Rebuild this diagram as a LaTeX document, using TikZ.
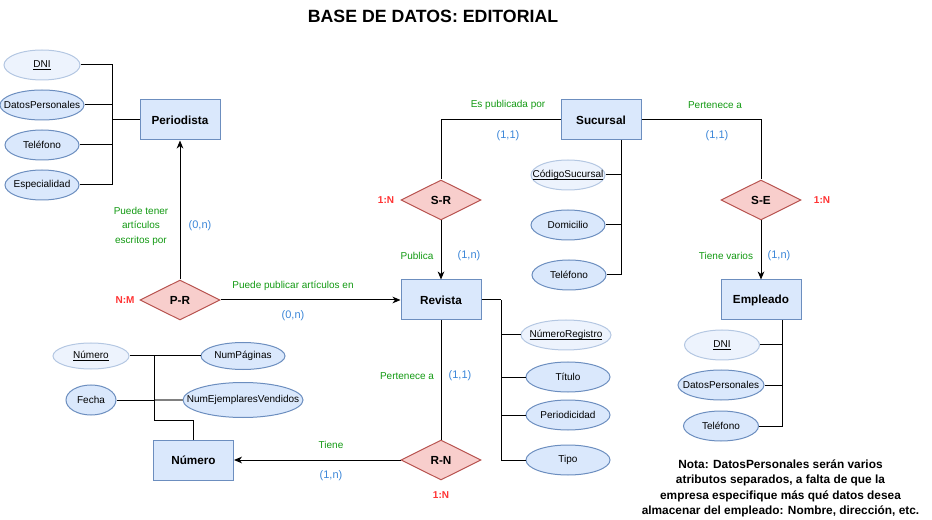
\documentclass[tikz,border=0pt]{standalone}
\usepackage{fontspec}
\setmainfont{Liberation Sans}
\usetikzlibrary{shapes.geometric,arrows.meta}
\definecolor{entfill}{HTML}{DAE8FC}
\definecolor{entdraw}{HTML}{6C8EBF}
\definecolor{relfill}{HTML}{F8CECC}
\definecolor{reldraw}{HTML}{B85450}
\definecolor{keyfill}{HTML}{EDF3FD}
\definecolor{keydraw}{HTML}{B4C7E2}
\definecolor{lblgreen}{HTML}{119911}
\definecolor{lblblue}{HTML}{3B86D8}
\definecolor{lblred}{HTML}{FF3333}
\newcommand{\zw}[1]{\makebox[0pt]{#1}}
\newcommand{\keyul}[1]{\setbox0\hbox{#1}\rlap{\rule[-1.3pt]{\wd0}{0.5pt}}\box0}
\begin{document}
\begin{tikzpicture}[x=0.75pt,y=-0.75pt,
  entity/.style={draw=entdraw,fill=entfill,line width=0.75pt,minimum width=60pt,minimum height=30pt,inner sep=0pt,font=\fontsize{8.8}{10}\selectfont\bfseries},
  rel/.style={diamond,draw=reldraw,fill=relfill,line width=0.75pt,minimum width=60pt,minimum height=30pt,inner sep=0pt,font=\fontsize{8.8}{10}\selectfont\bfseries},
  attr/.style 2 args={ellipse,draw=entdraw,fill=entfill,line width=0.75pt,minimum width=#1*0.75pt,minimum height=#2*0.75pt,inner sep=0pt,font=\fontsize{7.5}{9}\selectfont},
  keyattr/.style 2 args={attr={#1}{#2},draw=keydraw,fill=keyfill},
  conn/.style={draw=black,line width=0.75pt},
  arr/.style={conn,-{Stealth[length=6pt,width=5pt,inset=1.8pt]}},
  glbl/.style={text=lblgreen,font=\fontsize{7.5}{10.9}\selectfont,align=center,inner sep=0pt},
  blbl/.style={text=lblblue,font=\fontsize{8.25}{10}\selectfont,inner sep=0pt},
  rlbl/.style={text=lblred,font=\fontsize{7.5}{9}\selectfont\bfseries,inner sep=0pt}
]
\useasboundingbox (0,0) rectangle (932,520);

\node[font=\fontsize{13.3}{15}\selectfont\bfseries] (title) at (433,16) {BASE DE DATOS: EDITORIAL};

% entities
\node[entity] (per) at (180,120) {Periodista};
\node[entity] (suc) at (601,120) {Sucursal};
\node[entity] (rev) at (441,300) {Revista};
\node[entity] (emp) at (761,300) {Empleado};
\node[entity] (num) at (193.5,460) {Número};

% relationships
\node[rel] (pr) at (180,300) {P-R};
\node[rel] (sr) at (441,200) {S-R};
\node[rel] (se) at (761,200) {S-E};
\node[rel] (rn) at (441,460) {R-N};

% Periodista attributes
\node[keyattr={76}{30}] (pdni) at (42,65) {\zw{\keyul{DNI}}};
\node[attr={84}{30}] (pdp) at (42,105) {\zw{DatosPersonales}};
\node[attr={74}{30}] (ptel) at (42,145) {\zw{Teléfono}};
\node[attr={74}{30}] (pesp) at (42,185) {\zw{Especialidad}};
\coordinate (pj) at (112,120);
\draw[conn] (pdni.east) -| (pj);
\draw[conn] (pdp.east) -| (pj);
\draw[conn] (ptel.east) -| (pj);
\draw[conn] (pesp.east) -| (pj);
\draw[conn] (pj) -- (per.west);

% Sucursal attributes
\node[keyattr={74}{30}] (scod) at (568,175) {\zw{\keyul{CódigoSucursal}}};
\node[attr={74}{30}] (sdom) at (568,225) {\zw{Domicilio}};
\node[attr={74}{30}] (stel) at (569,275) {\zw{Teléfono}};
\coordinate (sj) at (621,140);
\draw[conn] (scod.east) -| (sj);
\draw[conn] (sdom.east) -| (sj);
\draw[conn] (stel.east) -| (sj);

% Revista attributes
\node[keyattr={90}{30}] (rnr) at (566,335) {\zw{\keyul{NúmeroRegistro}}};
\node[attr={84}{30}] (rtit) at (568,377) {\zw{Título}};
\node[attr={84}{30}] (rper) at (568,415) {\zw{Periodicidad}};
\node[attr={84}{30}] (rtip) at (568,460) {\zw{Tipo}};
\coordinate (rj) at (501,300);
\draw[conn] (rev.east) -- (rj);
\draw[conn] (rnr.west) -| (rj);
\draw[conn] (rtit.west) -| (rj);
\draw[conn] (rper.west) -| (rj);
\draw[conn] (rtip.west) -| (rj);

% Empleado attributes
\node[keyattr={75}{30}] (edni) at (722,345) {\zw{\keyul{DNI}}};
\node[attr={86}{30}] (edp) at (721,385) {\zw{DatosPersonales}};
\node[attr={75}{30}] (etel) at (721,426) {\zw{Teléfono}};
\coordinate (ej) at (782,320);
\draw[conn] (edni.east) -| (ej);
\draw[conn] (edp.east) -| (ej);
\draw[conn] (etel.east) -| (ej);

% Número attributes
\node[keyattr={76}{26}] (nkey) at (91,356) {\zw{\keyul{Número}}};
\node[attr={84}{27}] (npag) at (243,356) {\zw{NumPáginas}};
\node[attr={50}{30}] (nfec) at (91,400) {\zw{Fecha}};
\node[attr={120}{35}] (nej) at (243,400) {\zw{NumEjemplaresVendidos}};
\coordinate (ntop) at (154,356);
\coordinate (nmid) at (154,400);
\coordinate (nj) at (154,420);
\draw[conn] (nkey.east) -- (npag.west);
\draw[conn] (nfec.east) -- (nmid);
\draw[draw=gray,line width=1.5pt] (nmid) -- (nej.west);
\draw[conn] (num.north) |- (nj) -- (ntop);

% relationship connectors
\draw[arr] (pr.north) -- (per.south);
\draw[arr] (pr.east) -- (rev.west);
\draw[conn] (suc.west) -| (sr.north);
\draw[arr] (sr.south) -- (rev.north);
\draw[conn] (suc.east) -| (se.north);
\draw[arr] (se.south) -- (emp.north);
\draw[conn] (rev.south) -- (rn.north);
\draw[arr] (rn.west) -- (num.east);

% labels
\node[glbl] (l1) at (141,226) {Puede tener\\artículos\\escritos por};
\node[blbl] (c1) at (200,226) {(0,n)};
\node[rlbl] (m1) at (125,300) {N:M};
\node[glbl] (l2) at (293,286) {Puede publicar artículos en};
\node[blbl] (c2) at (293,316) {(0,n)};
\node[glbl] (l3) at (508,105) {Es publicada por};
\node[blbl] (c3) at (508,136) {(1,1)};
\node[rlbl] (m2) at (386,200) {1:N};
\node[glbl] (l4) at (417,256) {Publica};
\node[blbl] (c4) at (469,256) {(1,n)};
\node[glbl] (l5) at (715,105) {Pertenece a};
\node[blbl] (c5) at (717,136) {(1,1)};
\node[rlbl] (m3) at (822,200) {1:N};
\node[glbl] (l6) at (726,256) {Tiene varios};
\node[blbl] (c6) at (779,256) {(1,n)};
\node[glbl] (l7) at (407,376) {Pertenece a};
\node[blbl] (c7) at (460,376) {(1,1)};
\node[rlbl] (m4) at (441,495) {1:N};
\node[glbl] (l8) at (331,445) {Tiene};
\node[blbl] (c8) at (331,476) {(1,n)};

\node[align=center,font=\fontsize{8.9}{11.5}\selectfont\bfseries,inner sep=0pt] (note) at (780.5,488.5)
  {Nota: DatosPersonales serán varios\\atributos separados, a falta de que la\\empresa especifique más qué datos desea\\almacenar del empleado: Nombre, dirección, etc.};
\end{tikzpicture}
\end{document}
